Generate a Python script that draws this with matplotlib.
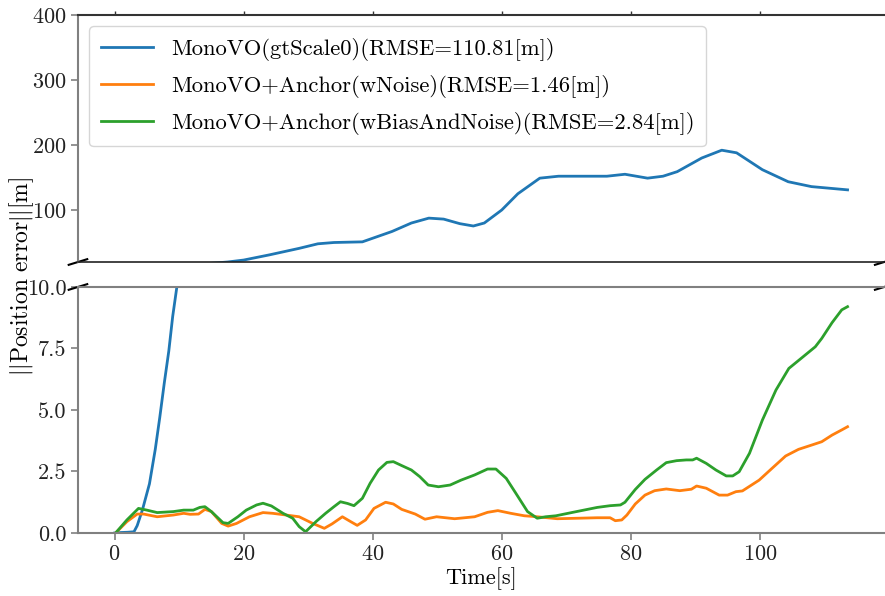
import matplotlib
matplotlib.use('Agg')
import matplotlib.pyplot as plt
import numpy as np

plt.rcParams['font.family'] = 'serif'
plt.rcParams['font.serif'] = ['cmr10']
plt.rcParams['mathtext.fontset'] = 'cm'
plt.rcParams['axes.formatter.use_mathtext'] = True
plt.rcParams['font.size'] = 16

# MonoVO (gtScale0)
t_mono = [0, 1, 2, 3, 3.5, 4.3, 5.4, 6.3, 7.0, 7.7, 8.4, 9.0, 9.7, 11, 13, 15, 17.5,
          20, 24, 28.6, 31.5, 34, 38.4, 43, 46, 48.7, 51, 53.5, 55.6, 57.3, 60, 62.5,
          65.9, 68.8, 72, 76.3, 79.1, 82.6, 85, 87.2, 91, 94.1, 96.4, 100.4, 104.4,
          108, 113.6]
e_mono = [0, 0.02, 0.03, 0.05, 0.3, 0.93, 2.0, 3.4, 4.7, 6.1, 7.4, 8.8, 10.1, 12, 15, 18, 20,
          23, 31, 41, 48, 50, 51, 67, 80, 87.5, 86, 79, 75.4, 80, 100, 125,
          149, 152, 152, 152, 155, 149, 152, 159, 180, 192, 188, 162, 143.5,
          136, 131]

# MonoVO+Anchor (wNoise)
t_noise = [0.15, 1.9, 3.5, 4.5, 6.6, 9.1, 10.7, 11.7, 13.0, 14.0, 15.0, 16.6, 17.6, 18.9,
           20.9, 23.0, 24.5, 26.6, 28.6, 30.7, 32.5, 33.7, 35.3, 36.6, 37.6, 38.9, 40.2,
           42.0, 43.2, 44.5, 46.6, 48.1, 49.9, 52.7, 55.8, 57.8, 59.4, 61.4, 63.5, 65.5,
           68.6, 74.8, 76.8, 77.6, 78.6, 79.4, 80.7, 82.2, 83.7, 85.5, 87.6, 89.4, 90.2,
           91.7, 93.7, 95.0, 96.3, 97.3, 99.9, 101.9, 104.0, 106.0, 108.1, 109.6, 111.2,
           112.7, 113.6]
e_noise = [0, 0.46, 0.77, 0.77, 0.66, 0.73, 0.8, 0.76, 0.77, 0.96, 0.87, 0.39, 0.28, 0.39,
           0.66, 0.83, 0.8, 0.73, 0.66, 0.39, 0.19, 0.37, 0.66, 0.46, 0.31, 0.53, 1.0,
           1.25, 1.18, 0.96, 0.77, 0.56, 0.66, 0.58, 0.66, 0.84, 0.91, 0.8, 0.7, 0.66,
           0.58, 0.62, 0.62, 0.5, 0.53, 0.73, 1.18, 1.54, 1.72, 1.79, 1.72, 1.78, 1.91,
           1.82, 1.54, 1.54, 1.68, 1.71, 2.15, 2.63, 3.13, 3.4, 3.58, 3.71, 3.98,
           4.19, 4.32]

# MonoVO+Anchor (wBiasAndNoise)
t_bias = [0.15, 1.9, 3.7, 5.0, 6.6, 9.1, 10.7, 12.2, 13.2, 14.0, 15.0, 16.8, 17.6, 19.1,
          20.4, 22.0, 23.0, 24.3, 26.1, 27.6, 28.6, 29.6, 31.2, 32.7, 34.0, 35.0, 36.1,
          37.1, 38.4, 39.6, 40.9, 42.2, 43.2, 44.5, 46.0, 47.3, 48.6, 50.2, 52.0, 53.7,
          55.8, 57.8, 59.1, 60.7, 62.2, 64.0, 65.5, 66.8, 68.4, 71.2, 74.8, 76.8, 78.4,
          79.1, 80.7, 82.2, 84.0, 85.5, 87.1, 88.6, 89.6, 90.2, 91.7, 93.2, 94.8, 95.8,
          96.8, 98.4, 100.4, 102.5, 104.5, 106.6, 108.6, 109.6, 111.2, 112.7, 113.6]
e_bias = [0, 0.53, 1.0, 0.93, 0.83, 0.87, 0.93, 0.93, 1.04, 1.07, 0.87, 0.42, 0.39, 0.66,
          0.93, 1.14, 1.21, 1.10, 0.8, 0.6, 0.26, 0.05, 0.46, 0.8, 1.07, 1.27, 1.2,
          1.11, 1.41, 2.02, 2.56, 2.87, 2.9, 2.74, 2.56, 2.29, 1.95, 1.88, 1.95, 2.15,
          2.36, 2.6, 2.6, 2.22, 1.61, 0.87, 0.6, 0.66, 0.7, 0.85, 1.04, 1.11, 1.14,
          1.25, 1.77, 2.18, 2.56, 2.86, 2.94, 2.97, 2.97, 3.04, 2.83, 2.56, 2.32, 2.32,
          2.49, 3.24, 4.59, 5.81, 6.69, 7.14, 7.57, 7.91, 8.55, 9.07, 9.2]

labels = ['MonoVO(gtScale0)(RMSE=110.81[m])',
          'MonoVO+Anchor(wNoise)(RMSE=1.46[m])',
          'MonoVO+Anchor(wBiasAndNoise)(RMSE=2.84[m])']

fig = plt.figure(figsize=(8.85, 5.96), dpi=100)
ax1 = fig.add_axes([0.0881, 0.5604, 0.911, 0.4144])
ax2 = fig.add_axes([0.0881, 0.1057, 0.911, 0.4128], sharex=ax1)

for ax in (ax1, ax2):
    ax.plot(t_mono, e_mono, color='tab:blue', lw=2, label=labels[0])
    ax.plot(t_noise, e_noise, color='tab:orange', lw=2, label=labels[1])
    ax.plot(t_bias, e_bias, color='tab:green', lw=2, label=labels[2])
    ax.spines['right'].set_visible(False)
    ax.spines['left'].set_color('#808080')
    ax.spines['left'].set_linewidth(1.5)
    ax.tick_params(axis='y', colors='#808080', labelcolor='#222222', length=5, width=1.2)

ax1.set_ylim(20, 400)
ax1.set_yticks([100, 200, 300, 400])
ax2.set_ylim(0, 10)
ax2.set_yticks([0, 2.5, 5, 7.5, 10])
ax2.set_yticklabels(['0.0', '2.5', '5.0', '7.5', '10.0'])
ax2.set_xticks([0, 20, 40, 60, 80, 100])

ax1.spines['top'].set_color('#333333')
ax1.spines['top'].set_linewidth(1.5)
ax1.spines['bottom'].set_color('#222222')
ax1.spines['bottom'].set_linewidth(1.2)
ax1.xaxis.tick_top()
ax1.tick_params(axis='x', labeltop=False, colors='#333333', length=3, width=1.0)

ax2.spines['top'].set_color('#808080')
ax2.spines['top'].set_linewidth(1.5)
ax2.spines['bottom'].set_color('#808080')
ax2.spines['bottom'].set_linewidth(1.5)
ax2.xaxis.tick_bottom()
ax2.tick_params(axis='x', colors='#808080', labelcolor='#222222', length=5, width=1.2)

# break marks
d = .0115
kw = dict(transform=ax1.transAxes, color='k', clip_on=False, lw=1.5)
ax1.plot((-d, +d), (-d, +d), **kw)
ax1.plot((1 - d, 1 + d), (-d, +d), **kw)
kw.update(transform=ax2.transAxes)
ax2.plot((-d, +d), (1 - d, 1 + d), **kw)
ax2.plot((1 - d, 1 + d), (1 - d, 1 + d), **kw)

ax1.legend(loc='upper left', fontsize=16.3, handlelength=2.3, labelspacing=0.62,
           borderpad=0.5)
ax2.set_xlabel('Time[s]', labelpad=2)
fig.text(0.025, 0.537, r'$||\mathrm{Position\ error}||[\mathrm{m}]$', rotation=90,
         ha='center', va='center', fontsize=17)

plt.savefig('out.png', dpi=100)
